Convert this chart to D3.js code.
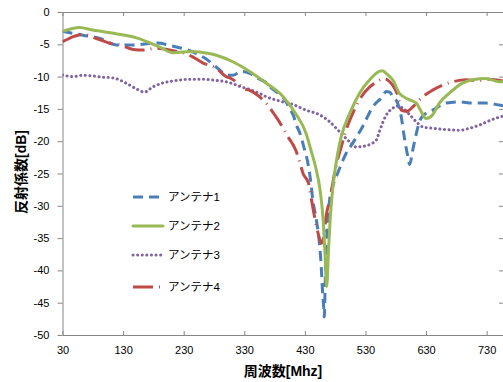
<!DOCTYPE html>
<html>
<head>
<meta charset="utf-8">
<script src="https://cdn.jsdelivr.net/npm/d3@7"></script>
<style>
    body { margin: 0; background: #fff; }
    svg { display: block; }
    text { font-family: "Liberation Sans", "Noto Sans CJK JP", sans-serif; }
</style>
</head>
<body>
<svg id="chart" width="503" height="382"></svg>
<script>
// frequency [MHz] / reflection [dB]
var ant1 = [[30,-3.0],[64,-3.6],[92,-4.1],[119,-5.1],[147,-5.1],[185,-4.8],[213,-5.3],[240,-6.0],[266,-7.2],[286,-8.7],[300,-9.7],[311,-9.8],[325,-9.2],[339,-9.5],[353,-10.3],[367,-11.0],[375,-11.8],[389,-12.8],[397,-13.6],[405,-15.0],[411,-16.0],[416,-17.5],[422,-18.8],[428,-20.8],[436,-23.9],[440,-26.5],[443,-29.0],[449,-32.2],[454,-35.8],[457,-39.4],[459,-43],[461,-45.6],[462,-47.2],[464,-40],[467,-33],[471,-29],[476,-27],[484,-25],[498,-21.9],[509,-20.3],[525,-17.8],[542,-14.7],[558,-13.1],[564,-12.3],[570,-12.4],[575,-13.1],[583,-14.1],[589,-16.2],[594,-19.3],[600,-22.4],[603,-23.6],[608,-21.4],[614,-18.8],[619,-17],[627,-15.9],[641,-15.2],[663,-14.1],[685,-13.9],[707,-14.1],[729,-14.1],[751,-14.4],[757,-14.5]];
var ant2 = [[30,-3.0],[58,-2.4],[80,-2.8],[120,-3.4],[152,-4.0],[190,-5.4],[212,-6.3],[245,-6.1],[256,-6.2],[284,-6.7],[311,-7.7],[339,-9.2],[366,-11.0],[393,-13.0],[416,-15.9],[432,-18.8],[440,-21.4],[449,-24.5],[455,-27.5],[460,-32],[463,-37],[466,-42.5],[469,-37],[472,-31.7],[477,-26.5],[484,-22],[490,-19.3],[504,-15.7],[520,-12.6],[537,-10.5],[553,-9.2],[558,-9.1],[564,-9.5],[570,-10.0],[575,-10.5],[586,-12.6],[603,-13.6],[614,-14.1],[622,-15.4],[630,-16.5],[641,-15.9],[652,-14.1],[668,-12.6],[690,-11.0],[707,-10.5],[729,-10.3],[751,-10.8],[757,-10.8]];
var ant3 = [[30,-9.75],[47,-10.0],[63,-9.8],[80,-9.9],[97,-10.1],[113,-10.2],[135,-11.0],[150,-11.8],[165,-12.4],[179,-11.6],[195,-11.0],[218,-10.6],[240,-10.4],[256,-10.4],[284,-10.6],[300,-10.8],[311,-11.1],[322,-11.5],[339,-12.0],[355,-12.6],[366,-13.1],[393,-13.9],[410,-14.3],[432,-15.2],[454,-15.9],[471,-17.0],[487,-18.5],[504,-20.1],[515,-20.9],[531,-20.7],[548,-19.8],[553,-18.5],[564,-16.0],[575,-14.9],[581,-14.55],[592,-14.9],[603,-15.9],[614,-17.0],[625,-17.8],[641,-18.0],[663,-18.2],[685,-18.3],[702,-18.0],[718,-17.5],[735,-16.8],[757,-16.1]];
var ant4 = [[30,-4.6],[48,-3.8],[64,-3.45],[86,-4.1],[108,-4.85],[125,-5.1],[147,-5.8],[163,-5.9],[185,-5.6],[213,-6.0],[240,-6.7],[262,-7.9],[284,-8.7],[300,-10.0],[306,-10.2],[319,-11.0],[328,-11.8],[338,-12.1],[355,-13.1],[366,-14.1],[380,-15.9],[393,-17.8],[402,-19.3],[415,-21.4],[422,-23.4],[427,-25],[436,-26.5],[441,-29.1],[446,-31.7],[452,-34.3],[457,-35.8],[462,-34.3],[465,-31.7],[471,-29.1],[473,-28.1],[481,-24],[490,-20.9],[498,-18.3],[509,-15.7],[520,-13.6],[537,-11.6],[547,-10.9],[561,-10.3],[570,-10.8],[578,-11.8],[584,-13.1],[589,-15.2],[598,-15.4],[608,-14.7],[614,-14.1],[625,-13.1],[641,-12.1],[658,-11.3],[674,-10.8],[696,-10.5],[718,-10.6],[735,-10.4],[757,-10.7]];

var seriesNames = ["アンテナ1", "アンテナ2", "アンテナ3", "アンテナ4"];
var xTicks = [30, 130, 230, 330, 430, 530, 630, 730];
var yTicks = [0, -5, -10, -15, -20, -25, -30, -35, -40, -45, -50];

var svg = d3.select("#chart");
var plotL = 62.5, plotT = 12, plotR = 503, plotB = 335;

var x = d3.scaleLinear().domain([30, 757]).range([plotL, plotR]);
var y = d3.scaleLinear().domain([-50, 0]).range([plotB, plotT]);

var axisColor = "#868686";

svg.append("defs").append("clipPath").attr("id", "plot-clip")
    .append("rect")
    .attr("x", plotL).attr("y", plotT - 2)
    .attr("width", plotR - plotL).attr("height", plotB - plotT + 4);

// bottom axis, ticks pointing inside
var xAxis = svg.append("g")
    .attr("transform", "translate(0," + plotB + ")")
    .call(d3.axisBottom(x).tickValues(xTicks).tickSizeInner(-4).tickSizeOuter(0).tickPadding(11));
xAxis.select(".domain").attr("stroke", axisColor);
xAxis.selectAll(".tick line").attr("stroke", axisColor);
xAxis.selectAll("text").attr("font-size", 11).attr("fill", "#000");

// top line with ticks
var xTop = svg.append("g")
    .attr("transform", "translate(0," + plotT + ")")
    .call(d3.axisTop(x).tickValues(xTicks).tickSizeInner(-4).tickSizeOuter(0).tickFormat(""));
xTop.select(".domain").attr("stroke", axisColor);
xTop.selectAll(".tick line").attr("stroke", axisColor);

// left axis
var yAxis = svg.append("g")
    .attr("transform", "translate(" + plotL + ",0)")
    .call(d3.axisLeft(y).tickValues(yTicks).tickSizeInner(5).tickSizeOuter(0).tickPadding(8)
        .tickFormat(function (d) { return d === 0 ? "0" : "-" + Math.abs(d); }));
yAxis.select(".domain").attr("stroke", axisColor);
yAxis.selectAll(".tick line").attr("stroke", axisColor);
yAxis.selectAll("text").attr("font-size", 11).attr("fill", "#000");

// right edge ticks
svg.append("g")
    .attr("transform", "translate(" + plotR + ",0)")
    .call(d3.axisRight(y).tickValues(yTicks.slice(1, -1)).tickSizeInner(-4).tickSizeOuter(0).tickFormat(""))
    .call(function (g) {
        g.select(".domain").remove();
        g.selectAll(".tick line").attr("stroke", axisColor);
    });

var styles = [
    { color: "#4a7ebb", dash: "10,6", cap: "butt" },
    { color: "#98b954", dash: null, cap: "round" },
    { color: "#8064a2", dash: "0.1,4.5", cap: "round" },
    { color: "#be4b48", dash: "20,6,1,6", cap: "butt" }
];
var allSeries = [ant1, ant2, ant3, ant4];

var line = d3.line()
    .x(function (d) { return x(d[0]); })
    .y(function (d) { return y(d[1]); })
    .curve(d3.curveMonotoneX);

var plot = svg.append("g").attr("clip-path", "url(#plot-clip)");
[2, 0, 3, 1].forEach(function (i) {
    plot.append("path")
        .datum(allSeries[i])
        .attr("fill", "none")
        .attr("stroke", styles[i].color)
        .attr("stroke-width", 3)
        .attr("stroke-linecap", styles[i].cap)
        .attr("stroke-linejoin", "round")
        .attr("stroke-dasharray", styles[i].dash);
});
plot.selectAll("path").attr("d", line);

// legend
var legendY = [197, 226, 255, 287];
var legend = svg.append("g");
seriesNames.forEach(function (name, i) {
    legend.append("line")
        .attr("x1", 133).attr("x2", 163)
        .attr("y1", legendY[i]).attr("y2", legendY[i])
        .attr("stroke", styles[i].color)
        .attr("stroke-width", 3)
        .attr("stroke-linecap", styles[i].cap)
        .attr("stroke-dasharray", styles[i].dash);
    legend.append("text")
        .attr("x", 168).attr("y", legendY[i] + 4)
        .attr("font-size", 11.5)
        .attr("font-family", "'Noto Sans CJK JP', sans-serif")
        .text(name);
});

// axis titles
svg.append("text")
    .attr("x", 283).attr("y", 376)
    .attr("text-anchor", "middle")
    .attr("font-size", 14).attr("font-weight", "bold")
    .attr("font-family", "'Noto Sans CJK JP', sans-serif")
    .text("周波数[Mhz]");

svg.append("text")
    .attr("transform", "translate(26,172) rotate(-90)")
    .attr("text-anchor", "middle")
    .attr("font-size", 14).attr("font-weight", "bold")
    .attr("font-family", "'Noto Sans CJK JP', sans-serif")
    .text("反射係数[dB]");
</script>
</body>
</html>
